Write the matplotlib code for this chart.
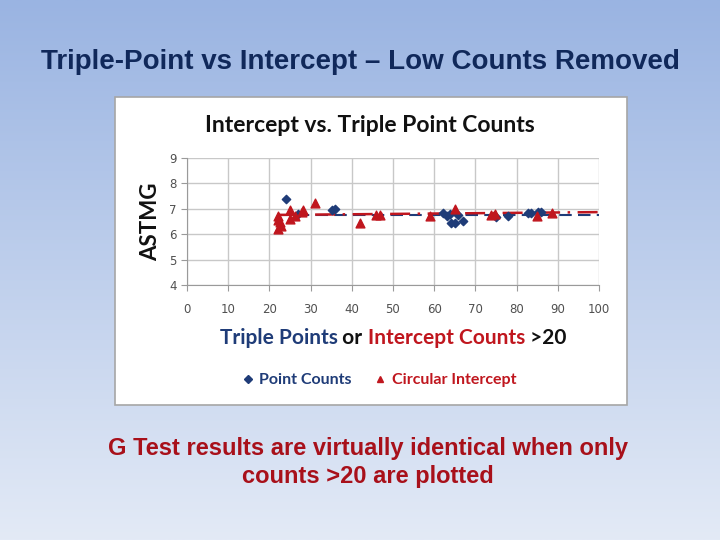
import numpy as np
import matplotlib
matplotlib.use("Agg")
import matplotlib.pyplot as plt
from matplotlib.patches import Rectangle
from matplotlib.lines import Line2D

# Point Counts (triple points)
point_x = [24.1, 27.0, 35.1, 36.0, 62.2, 63.0, 63.8, 64.0, 65.0, 65.8, 67.0, 75.1, 78.0, 82.8, 83.6, 85.3, 86.0]
point_y = [7.38, 6.78, 6.96, 7.00, 6.83, 6.72, 6.79, 6.46, 6.46, 6.76, 6.53, 6.66, 6.72, 6.83, 6.83, 6.86, 6.87]

# Circular Intercept
circ_x = [22.0, 22.1, 22.1, 22.5, 22.9, 24.9, 24.9, 26.2, 27.8, 28.2, 31.0, 41.9, 46.0, 46.8, 59.0, 65.0, 73.8, 74.7, 84.9, 88.5]
circ_y = [6.57, 6.70, 6.20, 6.50, 6.33, 6.96, 6.60, 6.70, 6.87, 6.96, 7.22, 6.43, 6.74, 6.74, 6.70, 7.00, 6.76, 6.79, 6.70, 6.83]

# trend lines (end points)
point_fit_x = [22, 100]
point_fit_y = [6.75, 6.75]
circ_fit_x = [22, 100]
circ_fit_y = [6.76, 6.87]

blue = "#1f3c78"
red = "#c0161e"

fig = plt.figure(figsize=(7.2, 5.4), dpi=100)

# slide background gradient
bg = fig.add_axes([0, 0, 1, 1], zorder=-10)
grad = np.linspace(0, 1, 256).reshape(-1, 1)
cmap = matplotlib.colors.LinearSegmentedColormap.from_list("bg", ["#9ab4e2", "#e3eaf6"])
bg.imshow(grad, aspect="auto", cmap=cmap, extent=[0, 1, 0, 1], origin="upper")
bg.set_axis_off()

# white chart panel
fig.patches.append(Rectangle((0.1597, 0.25), 0.711, 0.570, transform=fig.transFigure,
                             facecolor="white", edgecolor="#a6a6a6", lw=1.2, zorder=-5))

fig.text(0.5, 0.886, "Triple-Point vs Intercept – Low Counts Removed", ha="center", va="center",
         fontsize=20, fontweight="bold", color="#10285a", family="Liberation Sans")

ax = fig.add_axes([0.2597, 0.4722, 0.5722, 0.2352])
ax.plot(point_fit_x, point_fit_y, color=blue, lw=1.5, ls=(0, (6, 3)), zorder=2)
ax.plot(circ_fit_x, circ_fit_y, color=red, lw=1.8, ls=(0, (8, 3, 1, 3)), zorder=2)
ax.scatter(point_x, point_y, marker="D", s=18, color=blue, zorder=3)
ax.scatter(circ_x, circ_y, marker="^", s=40, color=red, zorder=3)

ax.set_xlim(0, 100)
ax.set_ylim(4, 9)
ax.set_xticks(range(0, 101, 10))
ax.set_yticks(range(4, 10))
ax.grid(True, color="#c8c8c8", lw=1)
ax.set_axisbelow(True)
for s in ["top", "right"]:
    ax.spines[s].set_visible(False)
for s in ["left", "bottom"]:
    ax.spines[s].set_color("#9a9a9a")
ax.tick_params(axis="both", colors="#9a9a9a", labelcolor="#505050", labelsize=8.5, length=4)
ax.tick_params(axis="x", pad=9)
ax.set_facecolor("white")

ax.text(0.444, 1.258, "Intercept vs. Triple Point Counts", transform=ax.transAxes, ha="center",
        va="center", fontsize=16.5, fontweight="bold", family="Lato", color="#111111")
ax.set_ylabel("ASTMG", fontsize=16, fontweight="bold", family="Lato", color="#111111", labelpad=6)

# multi-coloured x label
t = fig.text(0.305, 0.374, "Triple Points", fontsize=15, fontweight="bold", family="Lato",
             color=blue, va="center")
t = ax.annotate(" or ", xycoords=t, xy=(1, 0), va="bottom", fontsize=15, fontweight="bold",
                family="Lato", color="#111111")
t = ax.annotate("Intercept Counts", xycoords=t, xy=(1, 0), va="bottom", fontsize=15,
                fontweight="bold", family="Lato", color=red)
t = ax.annotate(" >20", xycoords=t, xy=(1, 0), va="bottom", fontsize=15, fontweight="bold",
                family="Lato", color="#111111")

handles = [Line2D([], [], marker="D", ls="", color=blue, markersize=4),
           Line2D([], [], marker="^", ls="", color=red, markersize=5)]
leg = fig.legend(handles, ["Point Counts", "Circular Intercept"], loc="center",
                 bbox_to_anchor=(0.524, 0.296), ncol=2, frameon=False, handletextpad=0.1,
                 handlelength=1.2, columnspacing=1.2,
                 prop={"family": "Lato", "weight": "bold", "size": 11.5})
leg.get_texts()[0].set_color(blue)
leg.get_texts()[1].set_color(red)

fig.text(0.511, 0.144, "G Test results are virtually identical when only\ncounts >20 are plotted",
         ha="center", va="center", fontsize=17, fontweight="bold", color="#a8101a",
         family="Liberation Sans", linespacing=1.3)

fig.savefig("out.png", dpi=100)
